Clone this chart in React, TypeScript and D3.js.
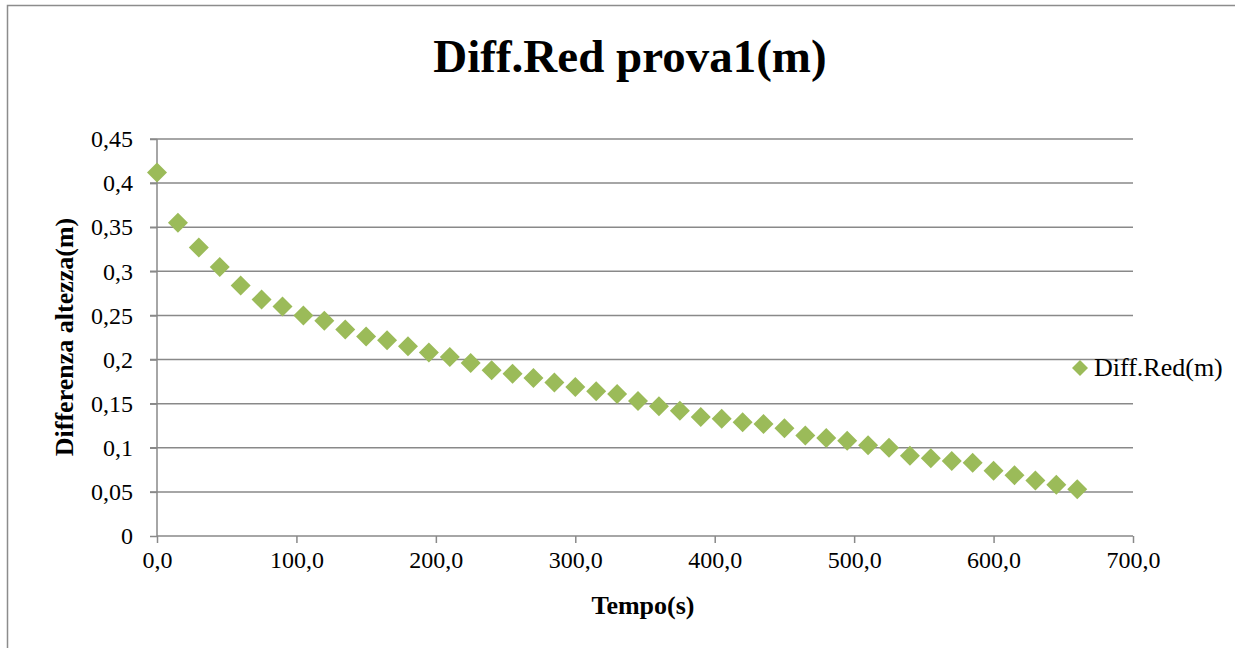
import React, { useEffect, useRef } from 'react'
import * as d3 from 'd3'

// tempo (s) e differenza di altezza (m)
const tempo = [
  0, 15, 30, 45, 60, 75, 90, 105, 120, 135, 150, 165, 180, 195, 210, 225, 240, 255, 270, 285, 300, 315, 330,
  345, 360, 375, 390, 405, 420, 435, 450, 465, 480, 495, 510, 525, 540, 555, 570, 585, 600, 615, 630, 645, 660,
]
const diffRed = [
  0.412, 0.355, 0.327, 0.305, 0.284, 0.268, 0.26, 0.25, 0.244, 0.234, 0.226, 0.222, 0.215, 0.208, 0.203,
  0.196, 0.188, 0.184, 0.179, 0.174, 0.169, 0.164, 0.161, 0.153, 0.147, 0.142, 0.135, 0.133, 0.129, 0.127,
  0.122, 0.114, 0.111, 0.108, 0.103, 0.1, 0.091, 0.088, 0.085, 0.083, 0.074, 0.069, 0.063, 0.058, 0.053,
]
const xTicks = [0, 100, 200, 300, 400, 500, 600, 700]
const yTicks = [0, 0.05, 0.1, 0.15, 0.2, 0.25, 0.3, 0.35, 0.4, 0.45]

const chartTitle = 'Diff.Red prova1(m)'
const xTitle = 'Tempo(s)'
const yTitle = 'Differenza altezza(m)'
const seriesName = 'Diff.Red(m)'

const W = 1245
const H = 648
const margin = { left: 157, right: 112, top: 139, bottom: 112 }
const green = '#9bbb59'
const gridColor = '#898989'
const font = 'Liberation Serif, Times New Roman, serif'

export default function App() {
  const ref = useRef<SVGSVGElement>(null)

  useEffect(() => {
    const svg = d3.select(ref.current)
    svg.selectAll('*').remove()

    const x = d3.scaleLinear().domain([0, 700]).range([margin.left, W - margin.right])
    const y = d3.scaleLinear().domain([0, 0.45]).range([H - margin.bottom, margin.top])

    svg.append('rect').attr('width', W).attr('height', H).attr('fill', '#fff')

    // bordo esterno (solo sopra e a sinistra visibili)
    svg.append('path')
      .attr('d', 'M7.5,648 L7.5,5.5 L1235,5.5')
      .attr('fill', 'none')
      .attr('stroke', '#8c8c8c')
      .attr('stroke-width', 1.5)

    const chart = svg.append('g').attr('font-family', font)

    // griglia orizzontale
    chart.append('g')
      .selectAll('line')
      .data(yTicks.filter(d => d > 0))
      .enter()
      .append('line')
      .attr('x1', x(0) - 7)
      .attr('x2', x(700))
      .attr('y1', d => y(d))
      .attr('y2', d => y(d))
      .attr('stroke', gridColor)
      .attr('stroke-width', 1.5)

    const yAxis = chart.append('g')
      .attr('transform', `translate(${x(0)},0)`)
      .call(d3.axisLeft(y).tickValues(yTicks).tickSize(7).tickPadding(17)
        .tickFormat(d => String(+d).replace('.', ',')))
    yAxis.attr('font-family', font).attr('font-size', 24)
    yAxis.selectAll('line').attr('stroke', gridColor).attr('stroke-width', 1.5)
    yAxis.select('.domain').attr('stroke', gridColor).attr('stroke-width', 1.5).attr('d', `M0,${y(0)}V${y(0.45)}`)
    yAxis.selectAll('text').attr('fill', '#000')

    const xAxis = chart.append('g')
      .attr('transform', `translate(0,${y(0)})`)
      .call(d3.axisBottom(x).tickValues(xTicks).tickSize(7).tickPadding(8)
        .tickFormat(d => (+d).toFixed(1).replace('.', ',')))
    xAxis.attr('font-family', font).attr('font-size', 24)
    xAxis.selectAll('line').attr('stroke', gridColor).attr('stroke-width', 1.5)
    xAxis.select('.domain').attr('stroke', gridColor).attr('stroke-width', 1.5).attr('d', `M${x(0)},0H${x(700)}`)
    xAxis.selectAll('text').attr('fill', '#000')

    // punti a rombo
    const diamond = (cx: number, cy: number, r: number) =>
      `M${cx},${cy - r}L${cx + r},${cy}L${cx},${cy + r}L${cx - r},${cy}Z`

    chart.append('g')
      .selectAll('path')
      .data(tempo.map((t, i) => ({ t, v: diffRed[i] })))
      .enter()
      .append('path')
      .attr('d', d => diamond(x(d.t), y(d.v), 10))
      .attr('fill', green)

    // titoli
    chart.append('text')
      .attr('x', 630)
      .attr('y', 72)
      .attr('text-anchor', 'middle')
      .attr('font-size', 47)
      .attr('font-weight', 700)
      .text(chartTitle)

    chart.append('text')
      .attr('x', 643)
      .attr('y', 614)
      .attr('text-anchor', 'middle')
      .attr('font-size', 26)
      .attr('font-weight', 700)
      .text(xTitle)

    chart.append('text')
      .attr('transform', 'translate(73,337) rotate(-90)')
      .attr('text-anchor', 'middle')
      .attr('font-size', 26)
      .attr('font-weight', 700)
      .text(yTitle)

    // legenda
    const legend = chart.append('g').attr('transform', 'translate(1080,368)')
    legend.append('path').attr('d', diamond(0, 0, 8)).attr('fill', green)
    legend.append('text')
      .attr('x', 14)
      .attr('y', 8)
      .attr('font-size', 26)
      .text(seriesName)
  }, [])

  return (
    <svg ref={ref} width={W} height={H} style={{ position: 'absolute', left: 0, top: 0, display: 'block' }} />
  )
}
